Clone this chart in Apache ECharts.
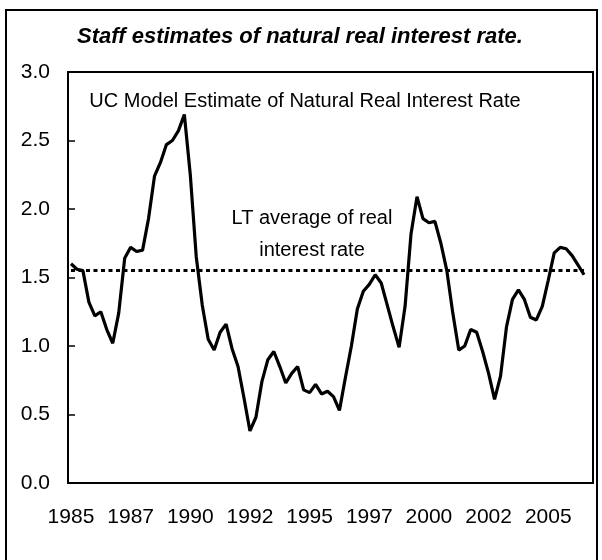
<!DOCTYPE html>
<html>
<head>
<meta charset="utf-8">
<script src="https://cdn.jsdelivr.net/npm/echarts@6/dist/echarts.min.js"></script>
<style>
  html, body { margin: 0; padding: 0; background: #fff; }
  #chartDiv { width: 602px; height: 560px; }
</style>
</head>
<body>
<div id="chartDiv"></div>
<script>
// quarterly estimates, 1985Q1 .. 2006Q3
var ucEstimate = [
    1.60, 1.56, 1.55, 1.32, 1.22, 1.25, 1.12, 1.02, 1.24, 1.64,
    1.72, 1.69, 1.70, 1.93, 2.24, 2.34, 2.47, 2.50, 2.57, 2.69,
    2.25, 1.65, 1.30, 1.05, 0.97, 1.10, 1.16, 0.98, 0.85, 0.62,
    0.38, 0.48, 0.74, 0.90, 0.96, 0.85, 0.73, 0.80, 0.85, 0.68,
    0.66, 0.72, 0.65, 0.67, 0.63, 0.53, 0.77, 1.00, 1.27, 1.40,
    1.45, 1.52, 1.46, 1.30, 1.14, 0.99, 1.29, 1.82, 2.09, 1.93,
    1.90, 1.91, 1.75, 1.55, 1.24, 0.97, 1.00, 1.12, 1.10, 0.96,
    0.80, 0.61, 0.78, 1.14, 1.34, 1.41, 1.34, 1.21, 1.19, 1.29,
    1.48, 1.68, 1.72, 1.71, 1.66, 1.59, 1.52
];
var ltAverage = 1.55;
var firstYear = 1985;
var lastYear = 2006;
var yTicks = [0, 0.5, 1.0, 1.5, 2.0, 2.5, 3.0];

// categories: one per quarter
var quarters = [];
for (var y = firstYear; y <= lastYear; y++) {
    for (var q = 1; q <= 4; q++) {
        quarters.push(y + 'Q' + q);
    }
}

var chart = echarts.init(document.getElementById('chartDiv'));
var font = '"Liberation Sans", Arial, sans-serif';

var option = {
    animation: false,
    backgroundColor: '#fff',
    title: [
        {
            text: 'Staff estimates of natural real interest rate.',
            left: 295, top: 21, textAlign: 'center',
            textStyle: { fontFamily: font, fontSize: 22, fontWeight: 'bold', fontStyle: 'italic', color: '#000' }
        },
        {
            text: 'UC Model Estimate of Natural Real Interest Rate',
            left: 300, top: 86, textAlign: 'center',
            textStyle: { fontFamily: font, fontSize: 20, fontWeight: 'normal', color: '#000' }
        },
        {
            text: 'LT average of real\ninterest rate',
            left: 307, top: 197, textAlign: 'center',
            textStyle: { fontFamily: font, fontSize: 20, fontWeight: 'normal', color: '#000', lineHeight: 32, align: 'center' }
        }
    ],
    graphic: [{
        type: 'rect',
        shape: { x: 6, y: 10, width: 591, height: 570 },
        style: { fill: null, stroke: '#000', lineWidth: 2 },
        silent: true
    }],
    grid: {
        left: 68, right: 9, top: 72, bottom: 77,
        show: true, borderColor: '#000', borderWidth: 2
    },
    xAxis: {
        type: 'category',
        data: quarters,
        boundaryGap: true,
        axisLine: { lineStyle: { color: '#000', width: 2 } },
        axisTick: { inside: true, length: 8, interval: 9, lineStyle: { color: '#000', width: 1.5 } },
        axisLabel: {
            interval: 9, margin: 24, color: '#000', fontFamily: font, fontSize: 21,
            formatter: function (v) { return v.slice(0, 4); }
        },
        splitLine: { show: false }
    },
    yAxis: {
        type: 'value',
        min: yTicks[0], max: yTicks[yTicks.length - 1], interval: 0.5,
        axisLine: { show: true, lineStyle: { color: '#000', width: 2 } },
        axisTick: { show: true, inside: true, length: 7, lineStyle: { color: '#000', width: 1.5 } },
        axisLabel: {
            margin: 18, color: '#000', fontFamily: font, fontSize: 21,
            formatter: function (v) { return v.toFixed(1); }
        },
        splitLine: { show: false }
    },
    series: [{
        type: 'line',
        name: 'UC Model Estimate',
        data: ucEstimate,
        showSymbol: false,
        symbol: 'none',
        lineStyle: { color: '#000', width: 3.2 },
        markLine: {
            silent: true,
            symbol: ['none', 'none'],
            label: { show: false },
            lineStyle: { color: '#000', width: 3, type: [4, 3.5] },
            data: [[
                { coord: [quarters[0], ltAverage] },
                { coord: [quarters[ucEstimate.length - 1], ltAverage] }
            ]]
        }
    }]
};

chart.setOption(option);
</script>
</body>
</html>
